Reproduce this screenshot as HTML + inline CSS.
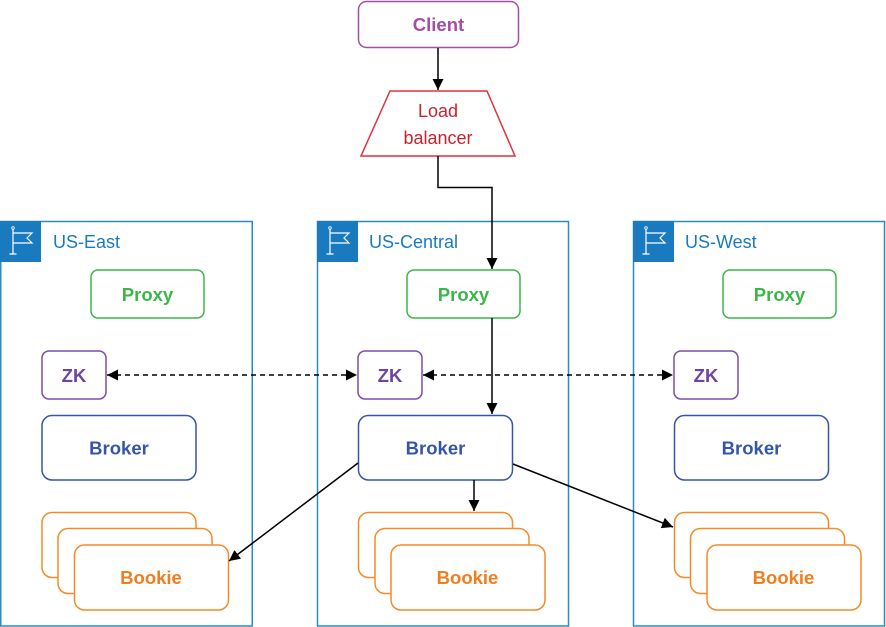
<!DOCTYPE html>
<html><head><meta charset="utf-8"><style>
html,body{margin:0;padding:0;background:#fff}
svg{display:block}
text{font-family:"Liberation Sans",Arial,sans-serif}
.b{font-weight:bold;font-size:18.5px}
</style></head><body>
<svg width="886" height="627" viewBox="0 0 886 627" xmlns="http://www.w3.org/2000/svg">
<defs>
<marker id="a" viewBox="0 0 10 10" refX="10" refY="5" markerWidth="11" markerHeight="11" markerUnits="userSpaceOnUse" orient="auto-start-reverse">
<path d="M0,0 L10,5 L0,10 z" fill="#000"/></marker>
<g id="flag"><rect x="0" y="0" width="41" height="41" fill="#1a7abf"/>
<path d="M13,8 V33 M9.5,33 H16.5 M13,12 H32 L27,17 L32,22 H13" stroke="#fff" stroke-width="1.2" fill="none"/>
<circle cx="13" cy="7" r="1.3" fill="none" stroke="#fff" stroke-width="0.8"/></g>
</defs>

<g fill="none" stroke="#2b8bc6" stroke-width="1.5">
<rect x="0.75" y="221.5" width="251.5" height="404.5"/>
<rect x="317.5" y="221.5" width="251" height="404.5"/>
<rect x="633.5" y="221.5" width="251" height="404.5"/>
</g>
<use href="#flag" x="0" y="221"/>
<use href="#flag" x="317" y="221"/>
<use href="#flag" x="633" y="221"/>
<g fill="#1a7abf" style="font-size:18px">
<text x="53" y="248">US-East</text>
<text x="369" y="248">US-Central</text>
<text x="685" y="248">US-West</text>
</g>

<rect x="358.5" y="1.5" width="160" height="46" rx="8" fill="#fff" stroke="#a64ca6" stroke-width="1.5"/>
<text x="438.5" y="31" text-anchor="middle" class="b" fill="#a64ca6">Client</text>
<polygon points="390,91 487,91 515,156 361,156" fill="#fff" stroke="#e0323a" stroke-width="1.5"/>
<text x="438" y="117" text-anchor="middle" style="font-size:18px" fill="#c8232c">Load</text>
<text x="438" y="144" text-anchor="middle" style="font-size:18px" fill="#c8232c">balancer</text>

<g fill="#fff" stroke="#3cb64a" stroke-width="1.5">
<rect x="91" y="270" width="113" height="48" rx="7"/>
<rect x="407" y="270" width="113" height="48" rx="7"/>
<rect x="723" y="270" width="113" height="48" rx="7"/>
</g>
<g class="b" fill="#3cb64a" text-anchor="middle">
<text x="147.5" y="301">Proxy</text><text x="463.5" y="301">Proxy</text><text x="779.5" y="301">Proxy</text>
</g>

<g fill="#fff" stroke="#7b4ea8" stroke-width="1.5">
<rect x="42" y="351" width="64" height="48" rx="7"/>
<rect x="358" y="351" width="64" height="48" rx="7"/>
<rect x="674" y="351" width="64" height="48" rx="7"/>
</g>
<g class="b" fill="#6f44a0" text-anchor="middle">
<text x="74" y="382">ZK</text><text x="390" y="382">ZK</text><text x="706" y="382">ZK</text>
</g>

<g fill="#fff" stroke="#3555a8" stroke-width="1.5">
<rect x="42" y="415.5" width="154" height="64.5" rx="10"/>
<rect x="358.5" y="415.5" width="154" height="64.5" rx="10"/>
<rect x="674.5" y="415.5" width="154" height="64.5" rx="10"/>
</g>
<g class="b" fill="#3555a8" text-anchor="middle">
<text x="119" y="454.5">Broker</text><text x="435.5" y="454.5">Broker</text><text x="751.5" y="454.5">Broker</text>
</g>

<g fill="#fff" stroke="#f58a2a" stroke-width="1.5">
<rect x="42" y="512.5" width="154" height="65" rx="10"/>
<rect x="58" y="528.5" width="154" height="65" rx="10"/>
<rect x="74.5" y="545" width="154" height="65" rx="10"/>
<rect x="358.5" y="512.5" width="154" height="65" rx="10"/>
<rect x="375" y="528.5" width="154" height="65" rx="10"/>
<rect x="391" y="545" width="154" height="65" rx="10"/>
<rect x="674.5" y="512.5" width="154" height="65" rx="10"/>
<rect x="690.5" y="528.5" width="154" height="65" rx="10"/>
<rect x="707" y="545" width="154" height="65" rx="10"/>
</g>
<g class="b" fill="#f07d1e" text-anchor="middle">
<text x="151" y="584">Bookie</text><text x="467.5" y="584">Bookie</text><text x="783.5" y="584">Bookie</text>
</g>

<g stroke="#000" stroke-width="1.5" fill="none">
<path d="M438,48 V90" marker-end="url(#a)"/>
<path d="M438,156 V187.5 H492 V269" marker-end="url(#a)"/>
<path d="M492,318 V414" marker-end="url(#a)"/>
<path d="M358,463 L229,561" marker-end="url(#a)"/>
<path d="M474,480 V511" marker-end="url(#a)"/>
<path d="M513,464 L673,527" marker-end="url(#a)"/>
<path d="M107,375 H357" stroke-dasharray="5,4" marker-start="url(#a)" marker-end="url(#a)"/>
<path d="M423,375 H673" stroke-dasharray="5,4" marker-start="url(#a)" marker-end="url(#a)"/>
</g>
</svg>
</body></html>
